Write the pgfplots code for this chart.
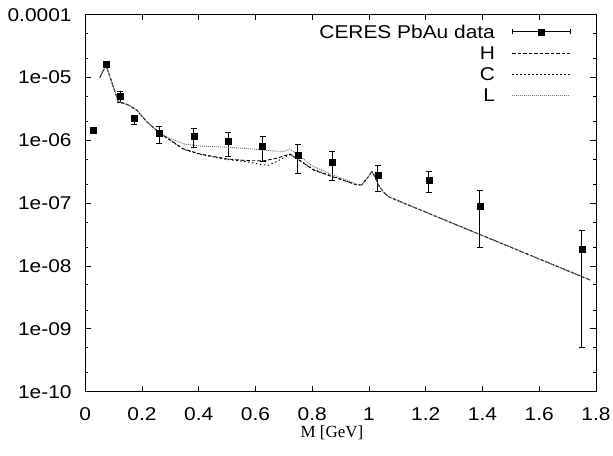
\documentclass[border=0pt]{standalone}
\usepackage{fontspec}
\setmainfont{Liberation Sans}[FakeStretch=1.13]
\newfontfamily\labelserif{Liberation Serif}
\usepackage{pgfplots}
\pgfplotsset{compat=1.18}

\begin{document}
\begin{tikzpicture}
\useasboundingbox (-85.25bp,-64.3bp) rectangle (527.75bp,391.7bp);
\begin{semilogyaxis}[
    scale only axis,
    width=510.75bp, height=377.2bp,
    at={(0,0)}, anchor=south west,
    xmin=0, xmax=1.8, ymin=1e-10, ymax=1e-4,
    xtick={0,0.2,0.4,0.6,0.8,1,1.2,1.4,1.6,1.8},
    xticklabels={0,0.2,0.4,0.6,0.8,1,1.2,1.4,1.6,1.8},
    ytick={1e-10,1e-9,1e-8,1e-7,1e-6,1e-5,1e-4},
    yticklabels={1e-10,1e-09,1e-08,1e-07,1e-06,1e-05,0.0001},
    minor ytick={2e-10,5e-10,2e-9,5e-9,2e-8,5e-8,2e-7,5e-7,2e-6,5e-6,2e-5,5e-5},
    tick align=inside,
    major tick length=6bp, minor tick length=3bp,
    tick style={black, line width=0.8bp},
    axis line style={line width=0.9bp},
    ticklabel style={font=\fontsize{18.5bp}{22bp}\selectfont, inner sep=0pt, text height=13.2bp, text depth=0pt},
    xticklabel style={anchor=north},
    yticklabel style={anchor=east},
    xticklabel shift=15.6bp,
    yticklabel shift=13.5bp,
    xlabel={M [GeV]},
    xlabel style={font=\labelserif\fontsize{17bp}{20bp}\selectfont, at={(axis description cs:0.483,0)}, anchor=center, yshift=-41bp, inner sep=0pt},
    legend plot pos=right,
    legend cell align=right,
    legend style={draw=none, fill=none, at={(0.951,0.972)}, anchor=north east,
        inner sep=0pt, row sep=7.9bp, column sep=17bp,
        font=\fontsize{18.5bp}{22bp}\selectfont,
        nodes={inner sep=0pt, text height=13.2bp, text depth=0pt}},
]

% CERES PbAu data with error bars
\addplot[black, only marks, mark=square*, mark size=3bp,
    error bars/.cd, y dir=both, y explicit,
    error mark options={rotate=90, mark size=3bp, line width=0.8bp},
    error bar style={line width=0.9bp},
    /pgfplots/legend image code/.code={
        \draw[line width=0.9bp] (0bp,0bp)--(58bp,0bp) (0bp,-2.5bp)--(0bp,2.5bp) (58bp,-2.5bp)--(58bp,2.5bp);
        \fill (26bp,-3bp) rectangle (32bp,3bp);}]
coordinates {
 (0.0285,1.46e-6) += (0,0.04e-6) -= (0,0.04e-6)
 (0.073,1.62e-5)  += (0,0.03e-5) -= (0,0.03e-5)
 (0.1225,4.93e-6) += (0,1.0e-6)  -= (0,0.96e-6)
 (0.172,2.24e-6)  += (0,0.28e-6) -= (0,0.45e-6)
 (0.261,1.29e-6)  += (0,0.35e-6) -= (0,0.40e-6)
 (0.383,1.14e-6)  += (0,0.41e-6) -= (0,0.37e-6)
 (0.503,9.5e-7)   += (0,3.7e-7)  -= (0,4.0e-7)
 (0.625,7.9e-7)   += (0,3.5e-7)  -= (0,3.3e-7)
 (0.749,5.83e-7)  += (0,2.9e-7)  -= (0,2.84e-7)
 (0.870,4.41e-7)  += (0,2.18e-7) -= (0,2.13e-7)
 (1.031,2.74e-7)  += (0,1.2e-7)  -= (0,1.18e-7)
 (1.211,2.34e-7)  += (0,0.91e-7) -= (0,0.85e-7)
 (1.391,8.79e-8)  += (0,7.0e-8)  -= (0,6.83e-8)
 (1.75,1.87e-8)   += (0,1.79e-8) -= (0,1.82e-8)
};
\addlegendentry{CERES PbAu data}

% H
\addplot[black, line width=0.9bp, dash pattern=on 3.5bp off 2bp,
    legend image code/.code={\draw[black, line width=0.9bp, dash pattern=on 3.5bp off 2bp] (0bp,0bp)--(58bp,0bp);}]
coordinates {
 (0.0516,1.0e-5) (0.0731,1.57e-5) (0.1166,4.11e-6) (0.152,3.64e-6)
 (0.181,3.03e-6) (0.2165,1.98e-6) (0.261,1.32e-6) (0.299,1.01e-6)
 (0.346,7.28e-7) (0.404,6.05e-7) (0.498,5.05e-7) (0.569,4.74e-7)
 (0.628,4.69e-7) (0.675,5.18e-7) (0.722,6.05e-7) (0.749,4.99e-7)
 (0.804,3.37e-7) (0.870,2.64e-7) (0.957,1.95e-7) (0.974,1.94e-7)
 (0.998,2.64e-7) (1.0096,3.17e-7) (1.021,2.64e-7) (1.033,1.95e-7)
 (1.050,1.52e-7) (1.068,1.27e-7) (1.109,1.06e-7) (1.779,6.0e-9)
};
\addlegendentry{H}

% C
\addplot[black, line width=0.9bp, dash pattern=on 1.5bp off 2.5bp,
    legend image code/.code={\draw[black, line width=0.9bp, dash pattern=on 1.5bp off 2.5bp] (0bp,0bp)--(58bp,0bp);}]
coordinates {
 (0.0516,1.0e-5) (0.0731,1.57e-5) (0.1166,4.11e-6) (0.152,3.64e-6)
 (0.181,3.03e-6) (0.2165,1.98e-6) (0.261,1.32e-6) (0.299,1.0e-6)
 (0.346,7.2e-7) (0.404,5.95e-7) (0.498,4.95e-7) (0.569,4.55e-7)
 (0.615,4.15e-7) (0.645,4.0e-7) (0.675,4.6e-7) (0.72,5.9e-7)
 (0.749,5.05e-7) (0.804,3.45e-7) (0.870,2.7e-7) (0.957,1.95e-7)
 (0.974,1.94e-7) (0.998,2.64e-7) (1.0096,3.17e-7) (1.021,2.64e-7)
 (1.033,1.95e-7) (1.050,1.52e-7) (1.068,1.27e-7) (1.109,1.06e-7)
 (1.779,6.0e-9)
};
\addlegendentry{C}

% L
\addplot[black!55, line width=0.9bp, dash pattern=on 1bp off 1bp,
    legend image code/.code={\draw[black!55, line width=0.9bp, dash pattern=on 1bp off 1bp] (0bp,0bp)--(58bp,0bp);}]
coordinates {
 (0.0516,1.0e-5) (0.0731,1.57e-5) (0.1166,4.11e-6) (0.152,3.64e-6)
 (0.181,3.03e-6) (0.2165,1.98e-6) (0.261,1.32e-6) (0.30,1.06e-6)
 (0.35,8.7e-7) (0.40,8.1e-7) (0.50,7.75e-7) (0.60,7.2e-7)
 (0.67,6.7e-7) (0.70,6.65e-7) (0.722,7.2e-7) (0.75,5.9e-7)
 (0.80,3.9e-7) (0.87,2.85e-7) (0.957,2.0e-7) (0.974,1.96e-7)
 (0.998,2.64e-7) (1.0096,3.17e-7) (1.021,2.64e-7) (1.033,1.95e-7)
 (1.050,1.52e-7) (1.068,1.27e-7) (1.109,1.06e-7) (1.779,6.0e-9)
};
\addlegendentry{L}

\end{semilogyaxis}
\end{tikzpicture}
\end{document}
